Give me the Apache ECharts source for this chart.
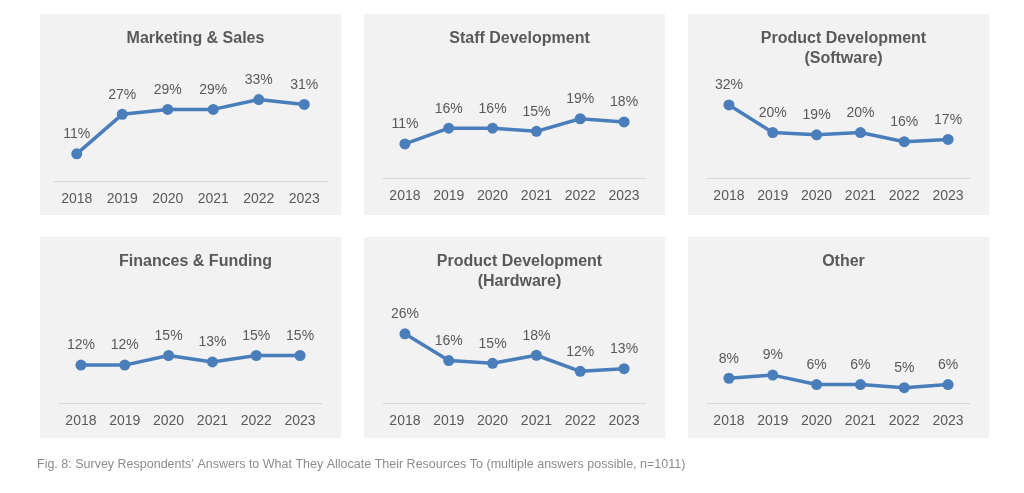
<!DOCTYPE html>
<html>
<head>
<meta charset="utf-8">
<script src="https://cdn.jsdelivr.net/npm/echarts@6/dist/echarts.min.js"></script>
<style>
html,body{margin:0;padding:0;background:#fff;}
#c{width:1024px;height:493px;}
</style>
</head>
<body>
<div id="c"></div>
<script>
const years = ['2018', '2019', '2020', '2021', '2022', '2023'];
const panelTitles = [
  'Marketing & Sales',
  'Staff Development',
  'Product Development\n(Software)',
  'Finances & Funding',
  'Product Development\n(Hardware)',
  'Other'
];
const marketingSales = [11, 27, 29, 29, 33, 31];
const staffDevelopment = [11, 16, 16, 15, 19, 18];
const productSoftware = [32, 20, 19, 20, 16, 17];
const financesFunding = [12, 12, 15, 13, 15, 15];
const productHardware = [26, 16, 15, 18, 12, 13];
const other = [8, 9, 6, 6, 5, 6];
const caption = 'Fig. 8: Survey Respondents\u2019 Answers to What They Allocate Their Resources To (multiple answers possible, n=1011)';

const seriesData = [marketingSales, staffDevelopment, productSoftware, financesFunding, productHardware, other];
// per-panel value-axis maximum (axis scale)
const axisMax = [40.5, 31.8, 43.5, 31.25, 37.3, 31.7];

// layout
const panelX = [40, 364, 688];
const panelY = [14, 237];
const panelW = 301, panelH = 201;
const axisY = [181, 178.5, 178.5, 403.5, 403.5, 403.5];
const plotH = 100;

const chart = echarts.init(document.getElementById('c'), null, {renderer: 'canvas'});
const FONT = '"Liberation Sans", Arial, sans-serif';
const TXT = '#595959';
const LINE = '#4a7ebb';

const grids = [], xAxes = [], yAxes = [], series = [], titles = [], graphics = [];
for (let i = 0; i < 6; i++) {
  const col = i % 3, row = Math.floor(i / 3);
  const x0 = panelX[col], y0 = panelY[row];
  graphics.push({
    type: 'rect', silent: true, z: -10,
    shape: {x: x0, y: y0, width: panelW, height: panelH},
    style: {fill: '#f2f2f2'}
  });
  const inset = (i === 0) ? 14 : 19;
  grids.push({
    left: x0 + inset,
    width: panelW - 2 * inset,
    top: axisY[i] - plotH,
    height: plotH
  });
  xAxes.push({
    type: 'category', gridIndex: i, data: years, boundaryGap: true,
    axisLine: {show: true, lineStyle: {color: '#d9d9d9', width: 1}},
    axisTick: {show: false},
    axisLabel: {color: TXT, fontFamily: FONT, fontSize: 14, margin: 11}
  });
  yAxes.push({
    type: 'value', gridIndex: i, min: 0, max: axisMax[i],
    show: false, splitLine: {show: false}
  });
  series.push({
    type: 'line', xAxisIndex: i, yAxisIndex: i, data: seriesData[i],
    symbol: 'circle', symbolSize: 11,
    lineStyle: {color: LINE, width: 3.5},
    itemStyle: {color: LINE},
    label: {
      show: true, position: 'top', distance: 7,
      formatter: p => p.value + '%',
      color: TXT, fontFamily: FONT, fontSize: 14
    },
    animation: false
  });
  titles.push({
    text: panelTitles[i],
    left: x0 + panelW / 2, textAlign: 'center',
    top: y0 + 10,
    textStyle: {
      color: TXT, fontFamily: FONT, fontSize: 16, fontWeight: 'bold', lineHeight: 20
    }
  });
}
graphics.push({
  type: 'text', left: 37, top: 458,
  style: {text: caption, fill: '#8c8c8c', font: '12.5px ' + FONT}
});

chart.setOption({
  animation: false,
  backgroundColor: '#ffffff',
  title: titles,
  grid: grids,
  xAxis: xAxes,
  yAxis: yAxes,
  series: series,
  graphic: graphics
});
</script>
</body>
</html>
